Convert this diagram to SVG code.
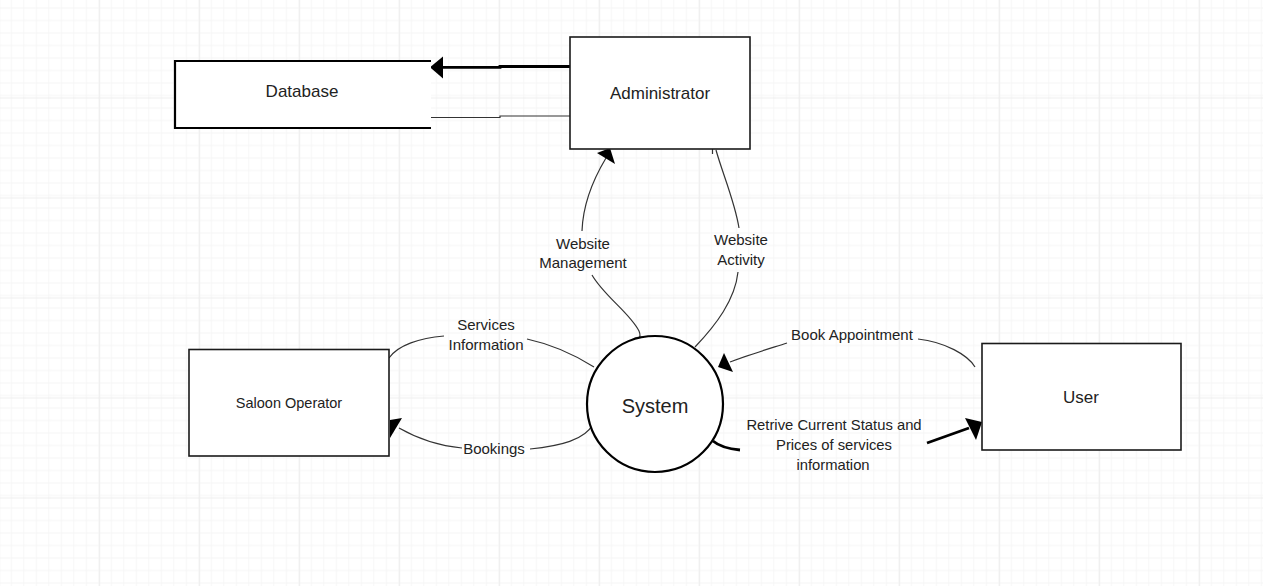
<svg xmlns="http://www.w3.org/2000/svg" width="1263" height="586" viewBox="0 0 1263 586">
  <style>
    .box { fill: #ffffff; stroke: #1a1a1a; stroke-width: 1.6; }
    .lbl { font-family: "Liberation Sans", Arial, sans-serif; fill: #222222; text-anchor: middle; }
    .node-txt { font-size: 17px; }
    .edge-txt { font-size: 15px; }
    .thin { fill: none; stroke: #333333; stroke-width: 1.2; }
    .thick { fill: none; stroke: #000000; stroke-width: 2.8; }
    .head { fill: #000000; stroke: none; }
  </style>
  <defs>
    <pattern id="minor" width="12.5" height="12.5" patternUnits="userSpaceOnUse" x="-0.8" y="-2.5">
      <path d="M 0.5 0 V 12.5 M 0 0.5 H 12.5" fill="none" stroke="#f5f5f5" stroke-width="1"/>
    </pattern>
    <pattern id="major" width="100" height="100" patternUnits="userSpaceOnUse" x="-0.8" y="-2.5">
      <rect width="100" height="100" fill="url(#minor)"/>
      <path d="M 0.5 0 V 100 M 0 0.5 H 100" fill="none" stroke="#eeeeee" stroke-width="1"/>
    </pattern>
  </defs>

  <rect width="1263" height="586" fill="#ffffff"/>
  <rect width="1263" height="586" fill="url(#major)"/>

  <g id="connectors">
    <!-- Administrator -> Database -->
    <path class="thick" d="M 570 66.5 L 500 66.5 L 500 67.3 L 441 67.3"/>
    <polygon class="head" points="430,67.3 443,56.5 443,78.5"/>
    <path class="thin" d="M 570 116 L 500 116 L 500 117.5 L 431 117.5"/>

    <!-- Website Management -->
    <path class="thin" d="M 582 231 C 583 202, 594 178, 606 158"/>
    <polygon class="head" points="610,148 597,153 615,164"/>
    <path class="thin" d="M 592 275 C 604 296, 630 313, 639 331 C 642 338, 637 343, 631 341 C 633 338, 639 337, 642 337"/>

    <!-- Website Activity -->
    <path class="thin" d="M 739 228 C 735 202, 722 172, 716 150 M 712.5 149 L 712.5 154"/>
    <path class="thin" d="M 738 272 C 735 300, 716 325, 695 347"/>

    <!-- Services Information -->
    <path class="thin" d="M 389 358 C 398 345, 420 338, 444 336"/>
    <path class="thin" d="M 527 339 C 550 344, 575 355, 594 367"/>

    <!-- Bookings -->
    <path class="thin" d="M 593 424 C 585 440, 560 446, 530 449"/>
    <path class="thin" d="M 462 448 C 440 446, 420 440, 399 428"/>
    <polygon class="head" points="390,420 402,418 390,438"/>

    <!-- Book Appointment -->
    <path class="thin" d="M 918 339 C 945 342, 968 355, 975 367"/>
    <path class="thin" d="M 787 343 C 765 350, 745 356, 730 362"/>
    <polygon class="head" points="724,353 718,367 733,372"/>

    <!-- Retrive Current Status -->
    <path class="thick" d="M 713 441 C 720 447, 730 449, 740 450"/>
    <path class="thick" d="M 927 443 L 969 428"/>
    <polygon class="head" points="965,418 982,422 976,440"/>
  </g>

  <g id="edge-labels">
    <text class="lbl edge-txt" x="583" y="249">Website</text>
    <text class="lbl edge-txt" x="583" y="268">Management</text>
    <text class="lbl edge-txt" x="741" y="245">Website</text>
    <text class="lbl edge-txt" x="741" y="265">Activity</text>
    <text class="lbl edge-txt" x="486" y="330">Services</text>
    <text class="lbl edge-txt" x="486" y="350">Information</text>
    <text class="lbl edge-txt" x="494" y="454">Bookings</text>
    <text class="lbl edge-txt" x="852" y="340">Book Appointment</text>
    <text class="lbl" style="font-size:14.8px" x="834" y="430">Retrive Current Status and</text>
    <text class="lbl" style="font-size:14.8px" x="834" y="450">Prices of services</text>
    <text class="lbl" style="font-size:14.8px" x="833" y="470">information</text>
  </g>

  <g id="database">
    <path d="M 431 61 L 175 61 L 175 128 L 431 128" fill="#ffffff" stroke="#000000" stroke-width="2.2"/>
    <text class="lbl node-txt" x="302" y="97">Database</text>
  </g>

  <g id="administrator">
    <rect class="box" x="570" y="37" width="180" height="112"/>
    <text class="lbl node-txt" x="660" y="99">Administrator</text>
  </g>

  <g id="saloon-operator">
    <rect class="box" x="189" y="349.5" width="200" height="106.5"/>
    <text class="lbl" style="font-size:14.5px" x="289" y="408">Saloon Operator</text>
  </g>

  <g id="user">
    <rect class="box" x="982" y="343.5" width="199" height="106.5"/>
    <text class="lbl node-txt" x="1081" y="403">User</text>
  </g>

  <g id="system">
    <circle cx="655" cy="404" r="68" fill="#ffffff" stroke="#000000" stroke-width="2.2"/>
    <text class="lbl" style="font-size:20px" x="655" y="413">System</text>
  </g>
</svg>
